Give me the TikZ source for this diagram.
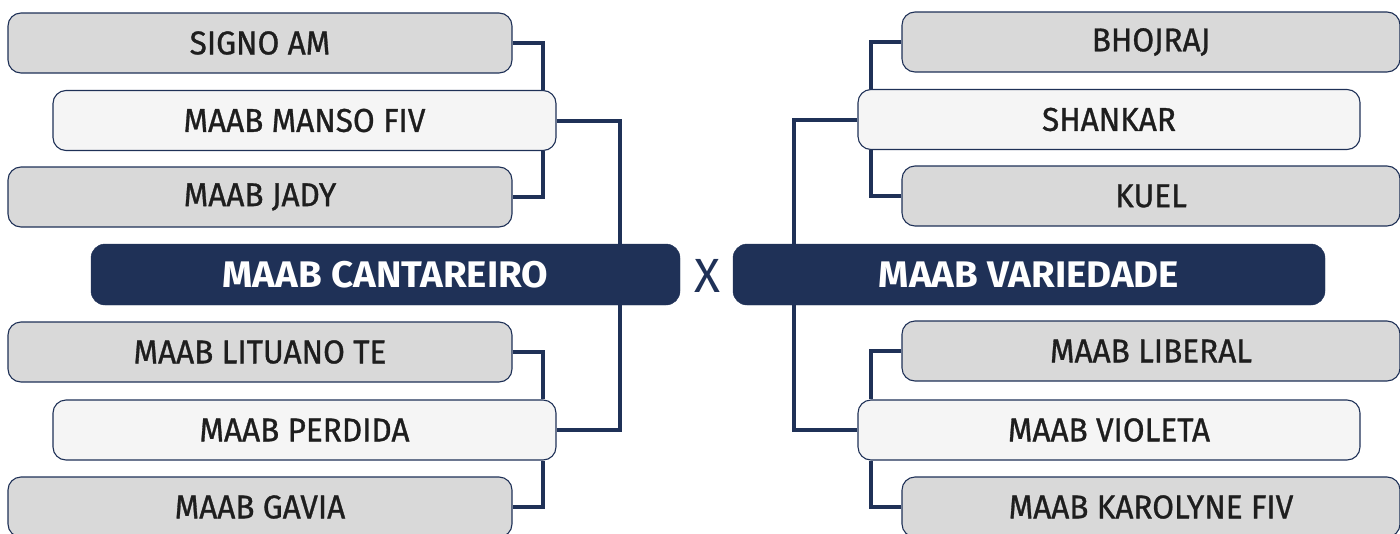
\documentclass[tikz,border=0pt]{standalone}
\usepackage{fontspec}
\usetikzlibrary{backgrounds}
\setmainfont{Fira Sans}[FakeStretch=0.955, FakeBold=0.9]
\newfontfamily\finalfont{Fira Sans Bold}[FakeStretch=1.04]
\newfontfamily\xfont{Fira Sans}
\definecolor{navy}{HTML}{1F3157}
\definecolor{grayfill}{HTML}{D9D9D9}
\definecolor{lightfill}{HTML}{F5F5F5}
\definecolor{txt}{HTML}{1E1E1E}
\tikzset{
  team/.style={draw=navy, line width=1.1pt, rounded corners=13pt, minimum height=60pt,
    inner sep=0pt, text=txt, font=\fontsize{33}{36}\selectfont},
  graybox/.style={team, fill=grayfill, minimum width=504pt},
  lightbox/.style={team, fill=lightfill, minimum width=503pt},
  finalbox/.style={draw=navy, fill=navy, rounded corners=14pt, minimum height=61pt,
    inner sep=0pt, text=white, font=\finalfont\fontsize{37}{40}\selectfont},
  conn/.style={draw=navy, line width=4pt, line join=miter, line cap=butt}
}
\begin{document}
\begin{tikzpicture}[x=1pt,y=-1pt]
\useasboundingbox (0,0) rectangle (1400,533);
% junction columns
\coordinate (ja) at (543,0);
\coordinate (jb) at (620,0);
\coordinate (jc) at (871,0);
\coordinate (jd) at (794,0);
% left nodes
\node[graybox] (signo) at (260,43) {SIGNO AM};
\node[graybox] (jady) at (260,197) {MAAB JADY};
\node[graybox] (lituano) at (260,352) {MAAB LITUANO TE};
\node[graybox] (gavia) at (260,507) {MAAB GAVIA};
\node[lightbox] (manso) at (304.5,120.5) {MAAB MANSO FIV};
\node[lightbox] (perdida) at (304.5,430) {MAAB PERDIDA};
% right nodes
\node[graybox, minimum width=498pt] (bhojraj) at (1151,42) {BHOJRAJ};
\node[graybox, minimum width=498pt] (kuel) at (1151,196) {KUEL};
\node[graybox, minimum width=498pt] (liberal) at (1151,351) {MAAB LIBERAL};
\node[graybox, minimum width=498pt] (karolyne) at (1151,507) {MAAB KAROLYNE FIV};
\node[lightbox, minimum width=502pt] (shankar) at (1109,119.5) {SHANKAR};
\node[lightbox, minimum width=502pt] (violeta) at (1109,430) {MAAB VIOLETA};
% finals
\node[finalbox, minimum width=589pt] (cant) at (385.5,274.5) {MAAB CANTAREIRO};
\node[finalbox, minimum width=592pt] (var) at (1029,274.5) {MAAB VARIEDADE};
\node[text=navy, font=\xfont\fontsize{48}{50}\selectfont, inner sep=0pt] (x) at (707,275.5) {X};
% connectors
\begin{pgfonlayer}{background}
\draw[conn] (signo.east) -| (manso.north -| ja);
\draw[conn] (jady.east) -| (manso.south -| ja);
\draw[conn] (lituano.east) -| (perdida.north -| ja);
\draw[conn] (gavia.east) -| (perdida.south -| ja);
\draw[conn] (manso.east) -| (cant.north -| jb);
\draw[conn] (cant.south -| jb) |- (perdida.east);
\draw[conn] (bhojraj.west) -| (shankar.north -| jc);
\draw[conn] (kuel.west) -| (shankar.south -| jc);
\draw[conn] (liberal.west) -| (violeta.north -| jc);
\draw[conn] (karolyne.west) -| (violeta.south -| jc);
\draw[conn] (shankar.west) -| (var.north -| jd);
\draw[conn] (var.south -| jd) |- (violeta.west);
\end{pgfonlayer}
\end{tikzpicture}
\end{document}
